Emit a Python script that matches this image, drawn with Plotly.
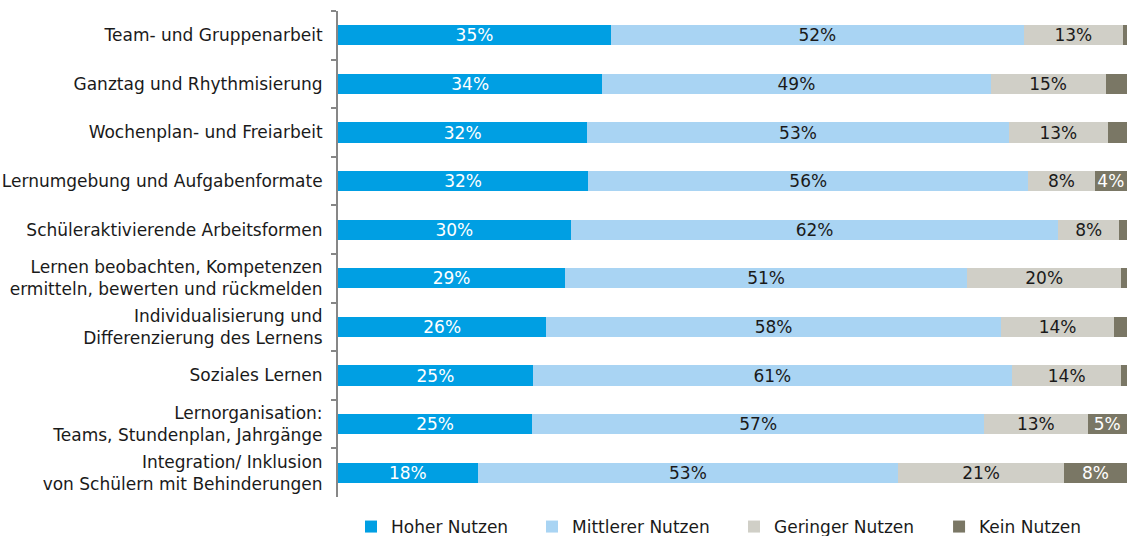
import plotly.graph_objects as go

categories = [
    "Team- und Gruppenarbeit",
    "Ganztag und Rhythmisierung",
    "Wochenplan- und Freiarbeit",
    "Lernumgebung und Aufgabenformate",
    "Schüleraktivierende Arbeitsformen",
    "Lernen beobachten, Kompetenzen<br>ermitteln, bewerten und rückmelden",
    "Individualisierung und<br>Differenzierung des Lernens",
    "Soziales Lernen",
    "Lernorganisation:<br>Teams, Stundenplan, Jahrgänge",
    "Integration/ Inklusion<br>von Schülern mit Behinderungen",
]

hoher = [34.6, 33.5, 31.6, 31.7, 29.5, 28.8, 26.4, 24.7, 24.6, 17.7]
mittlerer = [52.3, 49.2, 53.4, 55.8, 61.8, 50.9, 57.6, 60.7, 57.3, 53.3]
geringer = [12.6, 14.6, 12.6, 8.4, 7.7, 19.6, 14.4, 13.9, 13.1, 21.0]
kein = [0.5, 2.7, 2.4, 4.1, 1.0, 0.7, 1.6, 0.7, 5.0, 8.0]

series = [
    ("Hoher Nutzen", hoher, "#009FE3", "white"),
    ("Mittlerer Nutzen", mittlerer, "#A9D4F3", "#1a1a1a"),
    ("Geringer Nutzen", geringer, "#D0CFC7", "#1a1a1a"),
    ("Kein Nutzen", kein, "#7A7765", "white"),
]

FONT = "DejaVu Sans, Verdana, sans-serif"
legend_ids = ["legend", "legend2", "legend3", "legend4"]
legend_x = [0.0165, 0.2459, 0.5019, 0.7618]

fig = go.Figure()
for (name, vals, color, tcolor), lid in zip(series, legend_ids):
    texts = [f"{round(v)}%" if v >= 3.5 else "" for v in vals]
    fig.add_trace(go.Bar(
        name=name,
        y=categories,
        x=vals,
        orientation="h",
        marker=dict(color=color, line=dict(width=0)),
        text=texts,
        textposition="inside",
        insidetextanchor="middle",
        constraintext="none",
        textfont=dict(family=FONT, size=17, color=tcolor),
        hoverinfo="skip",
        legend=lid,
    ))

legend_common = dict(
    orientation="h",
    xanchor="left",
    yref="container",
    y=(536 - 527) / 536,
    yanchor="middle",
    font=dict(family=FONT, size=17, color="#1a1a1a"),
    itemwidth=30,
    bgcolor="rgba(0,0,0,0)",
)

fig.update_layout(
    barmode="stack",
    bargap=0.588,
    width=1129,
    height=536,
    margin=dict(l=338, r=2, t=11, b=39),
    paper_bgcolor="white",
    plot_bgcolor="white",
    font=dict(family=FONT, size=17, color="#1a1a1a"),
    showlegend=True,
    **{lid: dict(legend_common, x=lx) for lid, lx in zip(legend_ids, legend_x)},
)

fig.update_xaxes(
    range=[0, 100],
    showticklabels=False,
    showgrid=False,
    zeroline=False,
    showline=False,
    ticks="",
    fixedrange=True,
)

fig.update_yaxes(
    autorange="reversed",
    showline=True,
    linecolor="#878787",
    linewidth=2,
    ticks="outside",
    tickson="boundaries",
    ticklen=5,
    tickwidth=1.5,
    tickcolor="#878787",
    ticklabelstandoff=10,
    showgrid=False,
    zeroline=False,
    tickfont=dict(family=FONT, size=17, color="#1a1a1a"),
)

fig.write_html(
    "out.html",
    config={"displayModeBar": False},
    post_script="document.body.style.margin='0';document.body.style.overflow='hidden';",
)
